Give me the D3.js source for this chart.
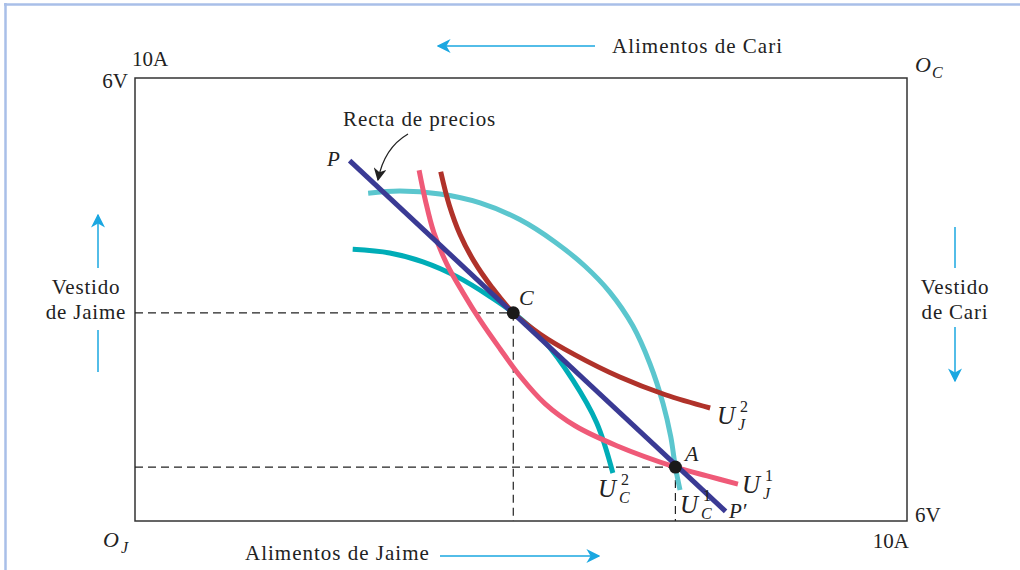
<!DOCTYPE html>
<html><head><meta charset="utf-8">
<script src="https://cdn.jsdelivr.net/npm/d3@7"></script>
<style>
html,body{margin:0;padding:0;background:#fff;}
svg text{font-family:"Liberation Serif","DejaVu Serif",serif;fill:#222;}
</style></head>
<body><svg id="c" width="1020" height="570"></svg>
<script>
// ---- data (Jaime's coordinates: food 0..10 A, clothing 0..6 V) ----
const xDomain = [0, 10];
const yDomain = [0, 6];
const cornerLabels = ["10A", "6V"];
const priceLine = [[2.78, 4.88], [7.65, 0.13]];
const pointC = [4.9, 2.82];
const pointA = [7.0, 0.73];
const uJ1 = [[3.68,4.75],[3.76,4.35],[3.87,3.91],[4.04,3.48],[4.25,3.09],[4.47,2.72],[4.73,2.33],[4.99,1.96],[5.31,1.59],[5.70,1.29],[6.24,1.02],[7.0,0.73],[7.41,0.61],[7.81,0.50]];
const uJ2 = [[3.96,4.73],[4.07,4.28],[4.21,3.88],[4.39,3.52],[4.62,3.17],[4.9,2.82],[5.25,2.53],[5.70,2.25],[6.28,1.95],[6.87,1.71],[7.45,1.53]];
const uC1 = [[3.02,4.44],[3.43,4.47],[3.95,4.43],[4.47,4.31],[4.99,4.08],[5.44,3.78],[5.83,3.45],[6.15,3.10],[6.45,2.64],[6.67,2.13],[6.84,1.59],[6.94,1.14],[7.0,0.73],[7.06,0.42]];
const uC2 = [[2.82,3.68],[3.30,3.63],[3.73,3.51],[4.17,3.31],[4.60,3.04],[4.9,2.82],[5.29,2.45],[5.67,1.91],[5.98,1.33],[6.19,0.65]];

const svg = d3.select("#c");
const x = d3.scaleLinear().domain(xDomain).range([135, 907]);
const y = d3.scaleLinear().domain(yDomain).range([521, 78]);

// outer light-blue frame
svg.append("line").attr("x1",5.5).attr("x2",5.5).attr("y1",3).attr("y2",570).attr("stroke","#a9bfe8").attr("stroke-width",2.5);
svg.append("line").attr("x1",4).attr("x2",1020).attr("y1",4.5).attr("y2",4.5).attr("stroke","#a9bfe8").attr("stroke-width",2.5);

const defs = svg.append("defs");
defs.append("marker").attr("id","ab").attr("viewBox","0 0 10 10").attr("refX",9).attr("refY",5)
    .attr("markerWidth",14).attr("markerHeight",14).attr("markerUnits","userSpaceOnUse").attr("orient","auto")
    .append("path").attr("d","M0,0 L10,5 L0,10 L3,5 Z").attr("fill","#1aa7e1");
defs.append("marker").attr("id","ak").attr("viewBox","0 0 10 10").attr("refX",9).attr("refY",5)
    .attr("markerWidth",13).attr("markerHeight",13).attr("markerUnits","userSpaceOnUse").attr("orient","auto")
    .append("path").attr("d","M0,0 L10,5 L0,10 L3,5 Z").attr("fill","#222");

// box
svg.append("rect").attr("x",x(0)).attr("y",y(6)).attr("width",x(10)-x(0)).attr("height",y(0)-y(6))
  .attr("fill","none").attr("stroke","#333").attr("stroke-width",1.5);

// dashed guides
const dash = "8,5";
[pointC, pointA].forEach(p=>{
  svg.append("line").attr("x1",x(0)).attr("x2",x(p[0])).attr("y1",y(p[1])).attr("y2",y(p[1]))
    .attr("stroke","#222").attr("stroke-width",1.2).attr("stroke-dasharray",dash);
  svg.append("line").attr("x1",x(p[0])).attr("x2",x(p[0])).attr("y1",y(p[1])).attr("y2",y(0))
    .attr("stroke","#222").attr("stroke-width",1.2).attr("stroke-dasharray",dash);
});

const line = d3.line().x(d=>x(d[0])).y(d=>y(d[1])).curve(d3.curveCatmullRom.alpha(0.5));
function curve(data, color){
  svg.append("path").attr("d",line(data)).attr("fill","none").attr("stroke",color).attr("stroke-width",5);
}
curve(uC1, "#5bc6ce");
curve(uC2, "#00adb7");
curve(uJ1, "#ef5a78");
curve(uJ2, "#b0322a");
svg.append("path").attr("d",d3.line().x(d=>x(d[0])).y(d=>y(d[1]))(priceLine))
  .attr("fill","none").attr("stroke","#3a3a94").attr("stroke-width",5);

[pointC, pointA].forEach(p=>{
  svg.append("circle").attr("cx",x(p[0])).attr("cy",y(p[1])).attr("r",6.5).attr("fill","#1a1a1a");
});

// text helpers
function txt(s, px, py, opts={}){
  const t = svg.append("text").attr("x",px).attr("y",py).text(s)
    .attr("font-size",opts.size||21).attr("text-anchor",opts.anchor||"start");
  if(opts.italic) t.attr("font-style","italic");
  if(opts.ls) t.attr("letter-spacing",opts.ls);
  return t;
}
// corner labels
txt(cornerLabels[0], 132, 66, {size:21});
txt(cornerLabels[1], 128, 88, {size:21, anchor:"end"});
txt(cornerLabels[1], 915, 522, {size:21});
txt(cornerLabels[0], 909, 548, {size:21, anchor:"end"});
// origins
txt("O", 915, 72, {size:22, italic:true});
txt("C", 932, 78, {size:16, italic:true});
txt("O", 103, 547, {size:22, italic:true});
txt("J", 121, 553, {size:16, italic:true});

// axis titles with arrows
txt("Alimentos de Cari", 612, 53, {ls:1});
svg.append("line").attr("x1",595).attr("x2",438).attr("y1",46).attr("y2",46).attr("stroke","#1aa7e1").attr("stroke-width",1.5).attr("marker-end","url(#ab)");
txt("Alimentos de Jaime", 245, 560, {ls:1});
svg.append("line").attr("x1",440).attr("x2",599).attr("y1",556).attr("y2",556).attr("stroke","#1aa7e1").attr("stroke-width",1.5).attr("marker-end","url(#ab)");

txt("Vestido", 86, 294, {anchor:"middle", ls:0.8});
txt("de Jaime", 86, 319, {anchor:"middle", ls:0.8});
svg.append("line").attr("x1",98).attr("x2",98).attr("y1",268).attr("y2",215).attr("stroke","#1aa7e1").attr("stroke-width",1.5).attr("marker-end","url(#ab)");
svg.append("line").attr("x1",98).attr("x2",98).attr("y1",330).attr("y2",372).attr("stroke","#1aa7e1").attr("stroke-width",1.5);

txt("Vestido", 955, 294, {anchor:"middle", ls:0.8});
txt("de Cari", 955, 319, {anchor:"middle", ls:0.8});
svg.append("line").attr("x1",955).attr("x2",955).attr("y1",227).attr("y2",268).attr("stroke","#1aa7e1").attr("stroke-width",1.5);
svg.append("line").attr("x1",955).attr("x2",955).attr("y1",327).attr("y2",381).attr("stroke","#1aa7e1").attr("stroke-width",1.5).attr("marker-end","url(#ab)");

// price line annotation
txt("Recta de precios", 343, 126, {ls:0.9});
svg.append("path").attr("d","M408,134 Q384,148 378,180").attr("fill","none").attr("stroke","#222").attr("stroke-width",1.3).attr("marker-end","url(#ak)");

// point labels
txt("P", 327, 166, {size:21, italic:true});
txt("P\u2032", 729, 518, {size:21, italic:true});
txt("C", 519, 305, {size:22, italic:true});
txt("A", 685, 461, {size:22, italic:true});

function uLabel(px, py, sup, sub){
  txt("U", px, py, {size:25, italic:true});
  txt(sup, px+23, py-12, {size:16});
  txt(sub, px+21, py+6, {size:16, italic:true});
}
uLabel(717, 424, "2", "J");
uLabel(742, 493, "1", "J");
uLabel(598, 497, "2", "C");
uLabel(680, 513, "1", "C");
</script></body></html>
